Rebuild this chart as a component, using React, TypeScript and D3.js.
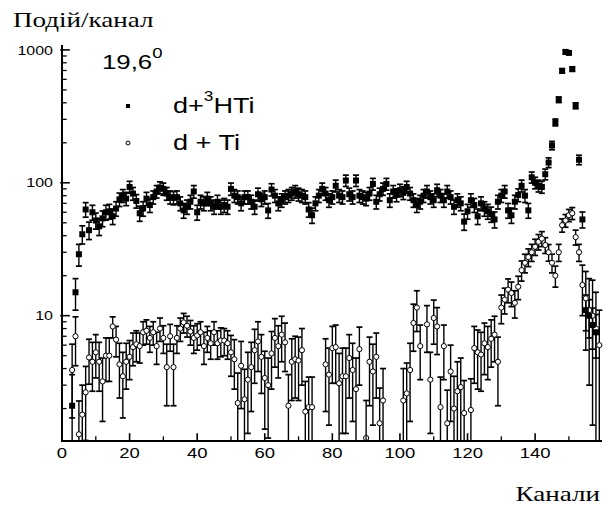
import React from "react";
import * as d3 from "d3";

// ---------- data ----------
const FIRST_CHANNEL = 3;

// d + 3HTi (filled markers), channels 3..158
const hTiCounts = [
  2.1, 15, 29, 41, 63, 44, 60, 52, 47, 54,
  60, 61, 56, 64, 75, 80, 76, 93, 83, 73,
  59, 64, 76, 68, 78, 86, 92, 90, 83, 78,
  77, 78, 70, 62, 66, 72, 86, 60, 72, 70,
  76, 70, 66, 72, 66, 68, 66, 90, 80, 78,
  70, 78, 78, 72, 66, 82, 75, 78, 62, 89,
  80, 70, 74, 78, 80, 83, 86, 82, 80, 78,
  63, 57, 70, 80, 90, 83, 74, 78, 95, 80,
  78, 104, 82, 78, 104, 80, 78, 76, 83, 98,
  72, 82, 90, 98, 74, 86, 81, 88, 84, 93,
  83, 74, 68, 72, 80, 86, 78, 74, 88, 80,
  74, 86, 78, 66, 74, 70, 51, 61, 74, 68,
  56, 70, 64, 61, 58, 53, 72, 80, 86, 62,
  57, 72, 81, 95, 80, 62, 110, 100, 95, 93,
  116, 142, 191, 285, 422, 696, 966, 950, 717, 380,
  149, 53, 11, 10, 8.5, 7.5,
];
const hTiErrors = [
  1.5, 4, 5.4, 6.4, 7.9, 6.6, 7.7, 7.2, 6.9, 7.3,
  7.7, 7.8, 7.5, 8, 8.7, 8.9, 8.7, 9.6, 9.1, 8.5,
  7.7, 8, 8.7, 8.2, 8.8, 9.3, 9.6, 9.5, 9.1, 8.8,
  8.8, 8.8, 8.4, 7.9, 8.1, 8.5, 9.3, 7.7, 8.5, 8.4,
  8.7, 8.4, 8.1, 8.5, 8.1, 8.2, 8.1, 9.5, 8.9, 8.8,
  8.4, 8.8, 8.8, 8.5, 8.1, 9.1, 8.7, 8.8, 7.9, 9.4,
  8.9, 8.4, 8.6, 8.8, 8.9, 9.1, 9.3, 9.1, 8.9, 8.8,
  7.9, 7.5, 8.4, 8.9, 9.5, 9.1, 8.6, 8.8, 9.7, 8.9,
  8.8, 10.2, 9.1, 8.8, 10.2, 8.9, 8.8, 8.7, 9.1, 9.9,
  8.5, 9.1, 9.5, 9.9, 8.6, 9.3, 9, 9.4, 9.2, 9.6,
  9.1, 8.6, 8.2, 8.5, 8.9, 9.3, 8.8, 8.6, 9.4, 8.9,
  8.6, 9.3, 8.8, 8.1, 8.6, 8.4, 7.1, 7.8, 8.6, 8.2,
  7.5, 8.4, 8, 7.8, 7.6, 7.3, 8.5, 8.9, 9.3, 7.9,
  7.5, 8.5, 9, 9.7, 8.9, 7.9, 10.5, 10, 9.7, 9.6,
  10.8, 11.9, 13.8, 16.9, 20.5, 26.4, 31.1, 30.8, 26.8, 19.5,
  12.2, 7.3, 3.3, 3.2, 2.9, 2.7,
];

// d + Ti (open markers), channels 3..159
const tiCounts: (number | null)[] = [
  3.9, 7.0, 1.28, 1.8, 2.65, 4.85, 4.5, 5.3, 4.5, 3.2,
  5.0, 5.0, 8.3, 6.6, 4.3, 3.5, 4.5, 4.9, 5.8, 6.1,
  5.9, 7.5, 7.7, 6.8, 7.5, 5.9, 8.0, 6.8, 4.1, 7.0,
  4.1, 6.8, 8.0, 8.9, 8.4, 7.6, 6.8, 7.1, 7.5, 5.9,
  6.8, 6.2, 7.5, 6.2, 6.5, 6.5, 6.2, 5.3, 4.7, 2.2,
  4.2, 2.35, 3.3, 4.1, 5.5, 6.4, 4.9, 3.4, 3.0, 5.2,
  6.8, 5.9, 7.2, 6.3, 2.1, 4.5, 4.7, 4.6, 5.5, 1.9,
  2.05, 2.05, null, null, null, 4.3, 3.6, 5.7, 5.8, 3.1,
  3.5, 3.5, 4.8, 3.9, 2.8, 5.6, null, 1.2, 4.5, 3.8,
  4.9, 1.55, 2.3, null, null, null, null, null, 2.3, 2.6,
  3.9, 8.8, 11.5, 5.9, null, 8.6, 3.3, 9.6, 8.3, 2.05,
  5.9, 1.55, 3.8, 2.0, 2.7, 2.9, 1.85, null, 1.95, 5.7,
  5.3, 5.1, 6.2, 5.8, 6.7, 7.2, 4.5, 11.5, 13.2, 15.7,
  14.8, 12.5, 16.5, 22, 25, 27.6, 30, 33, 36, 38,
  34, 30, 25, 20, 30, 48, 52, 57, 59, 39,
  30, 17, 13.5, 11, 10, 8, 6,
];
const tiErrors: (number | null)[] = [
  2.2, 2.8, 1.0, 1.2, 1.5, 1.8, 1.8, 1.9, 1.8, 1.6,
  1.8, 1.8, 1.5, 1.7, 1.9, 1.8, 1.7, 1.6, 1.6, 1.6,
  1.5, 1.5, 1.6, 1.5, 1.5, 1.6, 1.6, 1.6, 2.0, 1.6,
  2.0, 1.6, 1.6, 1.5, 1.5, 1.6, 1.6, 1.6, 1.5, 1.6,
  1.5, 1.5, 1.5, 1.5, 1.6, 1.5, 1.5, 1.8, 1.9, 1.5,
  2.2, 1.6, 2.0, 2.2, 2.4, 2.6, 2.3, 2.0, 1.8, 2.4,
  2.7, 2.5, 2.7, 2.5, 1.5, 2.2, 2.3, 2.3, 2.5, 1.3,
  1.4, 1.4, null, null, null, 2.4, 2.1, 2.6, 2.7, 2.1,
  2.2, 2.2, 2.4, 2.3, 2.0, 2.6, null, 1.1, 2.4, 2.3,
  2.5, 1.3, 1.7, null, null, null, null, null, 1.7, 1.8,
  2.3, 3.4, 3.9, 2.6, null, 3.3, 2.0, 3.5, 3.2, 1.4,
  2.6, 1.2, 2.2, 1.5, 1.8, 1.9, 1.4, null, 1.4, 2.6,
  2.5, 2.4, 2.6, 2.5, 2.6, 2.7, 2.4, 2.8, 2.9, 3.2,
  3.1, 2.9, 3.3, 3.8, 4.0, 4.2, 4.4, 4.6, 4.8, 4.9,
  4.6, 4.3, 4.0, 3.6, 4.4, 5.5, 5.7, 6.0, 6.1, 5.0,
  4.4, 7.0, 8.0, 8.0, 8.5, 7.0, 5.0,
];

const xLabelTicks = [0, 20, 40, 60, 80, 100, 120, 140];
const xMinorTicks = [10, 30, 50, 70, 90, 110, 130, 150];
const yLabelTicks = [10, 100, 1000];
const yMinorTicks = [2, 3, 4, 5, 6, 7, 8, 9, 20, 30, 40, 50, 60, 70, 80, 90, 200, 300, 400, 500, 600, 700, 800, 900];

const yTitle = "Подій/канал";
const xTitle = "Канали";
const angleLabel = ["19,6", "0"];
const legendFilled = ["d+", "3", "HTi"];
const legendOpen = "d + Ti";

// ---------- layout ----------
const W = 608;
const H = 506;
const X0 = 62, X1 = 601, Y0 = 441, Y1 = 46;
const Y_MIN = 1.14, Y_MAX = 1070;

const x = d3.scaleLinear().domain([0, 159.5]).range([X0, X1]);
const y = d3.scaleLog().domain([Y_MIN, Y_MAX]).range([Y0, Y1]);

const SANS = "'Liberation Sans', Arial, Helvetica, sans-serif";
const SERIF = "'Liberation Serif', 'Times New Roman', serif";
const SX = 1.23;

type Pt = { ch: number; v: number; e: number };

function toPoints(vals: (number | null)[], errs: (number | null)[]): Pt[] {
  const out: Pt[] = [];
  vals.forEach((v, i) => {
    if (v == null) return;
    out.push({ ch: FIRST_CHANNEL + i, v, e: (errs[i] as number) ?? 0 });
  });
  return out;
}

function ErrorBars({ pts, cap }: { pts: Pt[]; cap: number }) {
  return (
    <g stroke="#000" strokeWidth={1.4} fill="none">
      {pts.map((p) => {
        const cx = x(p.ch);
        const hi = p.v + p.e;
        const lo = p.v - p.e;
        const yHi = y(Math.min(hi, Y_MAX));
        const yLo = lo > Y_MIN ? y(lo) : Y0;
        return (
          <g key={p.ch}>
            <line x1={cx} x2={cx} y1={yHi} y2={yLo} />
            {hi < Y_MAX && <line x1={cx - cap} x2={cx + cap} y1={yHi} y2={yHi} strokeWidth={1.7} />}
            {lo > Y_MIN && <line x1={cx - cap} x2={cx + cap} y1={yLo} y2={yLo} strokeWidth={1.7} />}
          </g>
        );
      })}
    </g>
  );
}

function SGroup({ tx, ty, children }: any) {
  return <g transform={`translate(${tx},${ty}) scale(${SX},1)`}>{children}</g>;
}

export default function App() {
  const filled = toPoints(hTiCounts, hTiErrors);
  const open = toPoints(tiCounts, tiErrors);
  const q = 3; // half size of filled square

  return (
    <svg
      width={W}
      height={H}
      viewBox={`0 0 ${W} ${H}`}
      style={{ position: "fixed", left: 0, top: 0, background: "#fff" }}
    >
      <rect x={0} y={0} width={W} height={H} fill="#fff" />
      <defs>
        <clipPath id="plotClip">
          <rect x={X0} y={Y1 - 8} width={X1 - X0 + 4} height={Y0 - Y1 + 8} />
        </clipPath>
      </defs>

      {/* data */}
      <g clipPath="url(#plotClip)">
        <ErrorBars pts={open} cap={3} />
        <ErrorBars pts={filled} cap={3} />
        <g>
          {open.map((p) => (
            <circle key={p.ch} cx={x(p.ch)} cy={y(p.v)} r={2.6} fill="#fff" stroke="#000" strokeWidth={1} />
          ))}
        </g>
        <g>
          {filled.map((p) => (
            <rect key={p.ch} x={x(p.ch) - q} y={y(p.v) - q} width={2 * q} height={2 * q} fill="#000" />
          ))}
        </g>
      </g>

      {/* axes */}
      <g stroke="#000" strokeLinecap="square">
        <line x1={X0} x2={X0} y1={Y1} y2={Y0} strokeWidth={2} />
        <line x1={X0} x2={X1} y1={Y0} y2={Y0} strokeWidth={2} />
        {yLabelTicks.map((t) => (
          <line key={"ym" + t} x1={X0 - 1} x2={X0 + 7} y1={y(t)} y2={y(t)} strokeWidth={1.6} />
        ))}
        {yMinorTicks.map((t) => (
          <line key={"yn" + t} x1={X0} x2={X0 + 4} y1={y(t)} y2={y(t)} strokeWidth={1.3} />
        ))}
        {xLabelTicks.map((t) => (
          <line key={"xm" + t} x1={x(t)} x2={x(t)} y1={Y0} y2={Y0 - 7} strokeWidth={1.6} />
        ))}
        {xMinorTicks.map((t) => (
          <line key={"xn" + t} x1={x(t)} x2={x(t)} y1={Y0} y2={Y0 - 4} strokeWidth={1.3} />
        ))}
      </g>

      {/* tick labels */}
      {yLabelTicks.map((t) => (
        <SGroup key={"yl" + t} tx={53} ty={y(t) + 4.7}>
          <text fontSize={13} fontFamily={SANS} textAnchor="end" fill="#000">{t}</text>
        </SGroup>
      ))}
      {xLabelTicks.map((t) => (
        <SGroup key={"xl" + t} tx={x(t)} ty={458}>
          <text fontSize={15} fontFamily={SANS} textAnchor="middle" fill="#000">{t}</text>
        </SGroup>
      ))}

      {/* titles */}
      <SGroup tx={13} ty={27}>
        <text fontSize={22} fontFamily={SERIF} fill="#000">{yTitle}</text>
      </SGroup>
      <SGroup tx={600} ty={501}>
        <text fontSize={22} fontFamily={SERIF} textAnchor="end" fill="#000">{xTitle}</text>
      </SGroup>

      {/* angle */}
      <SGroup tx={102} ty={69}>
        <text fontSize={21} fontFamily={SANS} fill="#000">
          {angleLabel[0]}
          <tspan fontSize={15} dy={-11}>{angleLabel[1]}</tspan>
        </text>
      </SGroup>

      {/* legend */}
      <rect x={128 - 2} y={106 - 2} width={4} height={4} fill="#000" />
      <circle cx={128} cy={143} r={2} fill="#fff" stroke="#000" strokeWidth={1} />
      <SGroup tx={173} ty={113}>
        <text fontSize={22} fontFamily={SANS} fill="#000">
          {legendFilled[0]}
          <tspan fontSize={14} dy={-12}>{legendFilled[1]}</tspan>
          <tspan dy={12}>{legendFilled[2]}</tspan>
        </text>
      </SGroup>
      <SGroup tx={173} ty={150}>
        <text fontSize={22} fontFamily={SANS} fill="#000">{legendOpen}</text>
      </SGroup>
    </svg>
  );
}
